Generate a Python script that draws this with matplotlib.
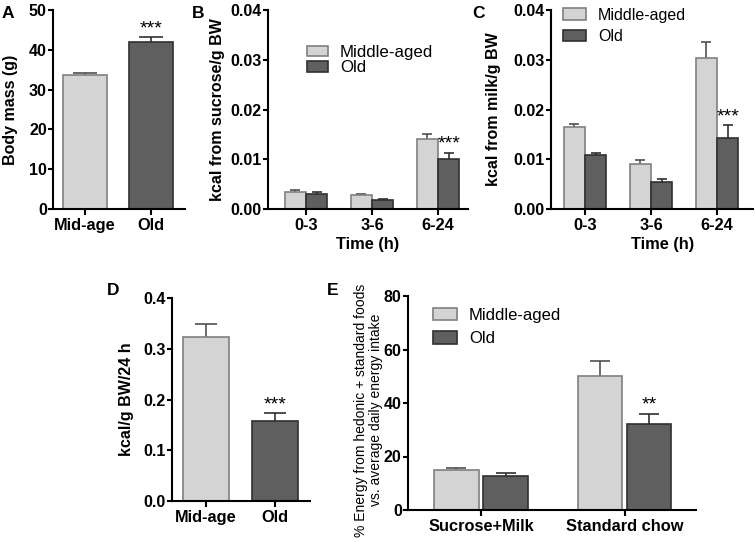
import matplotlib
matplotlib.use("Agg")
import matplotlib.pyplot as plt
import numpy as np
from matplotlib.ticker import FormatStrFormatter

# ---------------- data ----------------
A_groups = ["Mid-age", "Old"]
A_mean = [33.7, 41.9]
A_err = [0.4, 1.2]

times = ["0-3", "3-6", "6-24"]
B_ma = [0.0034, 0.0028, 0.0140]
B_ma_err = [0.0004, 0.0003, 0.0011]
B_old = [0.0031, 0.0018, 0.0101]
B_old_err = [0.0004, 0.0003, 0.0012]

C_ma = [0.0164, 0.0090, 0.0303]
C_ma_err = [0.0006, 0.0008, 0.0032]
C_old = [0.0109, 0.0054, 0.0143]
C_old_err = [0.0004, 0.0006, 0.0025]

D_groups = ["Mid-age", "Old"]
D_mean = [0.324, 0.158]
D_err = [0.025, 0.015]

E_cats = ["Sucrose+Milk", "Standard chow"]
E_ma = [15.0, 50.2]
E_ma_err = [0.6, 5.6]
E_old = [12.8, 32.1]
E_old_err = [1.0, 3.8]

series_names = ["Middle-aged", "Old"]

# ---------------- style ----------------
plt.rcParams["font.family"] = ["Liberation Sans", "DejaVu Sans"]
LIGHT, LIGHT_EDGE, LIGHT_ERR = "#d4d4d4", "#808080", "#505050"
DARK, DARK_EDGE, DARK_ERR = "#5f5f5f", "#303030", "#303030"
W, H = 755, 542
fig = plt.figure(figsize=(W / 100, H / 100), dpi=100)


def rect(l, t, r, b):
    return [l / W, 1 - b / H, (r - l) / W, (b - t) / H]


def style(ax):
    for s in ["top", "right"]:
        ax.spines[s].set_visible(False)
    for s in ["left", "bottom"]:
        ax.spines[s].set_linewidth(1.5)
    ax.tick_params(axis="x", length=4.3, width=1.5, pad=2, labelsize=11.8)
    ax.tick_params(axis="y", length=3.5, width=1.5, pad=1, labelsize=11.5)
    for lab in ax.get_xticklabels() + ax.get_yticklabels():
        lab.set_fontweight("bold")


def bars(ax, x, vals, errs, width, color, edge, errc, capsize, label=None):
    b = ax.bar(x, vals, width, color=color, edgecolor=edge, linewidth=1.2,
               label=label, zorder=2)
    eb = ax.errorbar(x, vals, yerr=[np.zeros(len(vals)), errs], fmt="none",
                     ecolor=errc, elinewidth=1.2, capsize=capsize,
                     capthick=1.2, zorder=1)
    eb[1][0].set_visible(False)
    return b


def stars(ax, x, y, s, dy=0):
    ax.annotate(s, (x, y), xytext=(0, dy), textcoords="offset points",
                ha="center", va="bottom", fontsize=14)


def ylab(ax, text, x, y=0.5, **kw):
    ax.set_ylabel(text, fontsize=kw.pop("fontsize", 11.5),
                  fontweight=kw.pop("fontweight", "bold"), **kw)
    ax.yaxis.set_label_coords(x, y)


# ---------------- A ----------------
axA = fig.add_axes(rect(53, 10, 185, 209))
xa = np.arange(2)
bars(axA, xa[:1], A_mean[:1], A_err[:1], 0.67, LIGHT, LIGHT_EDGE, LIGHT_ERR, 8.6)
bars(axA, xa[1:], A_mean[1:], A_err[1:], 0.67, DARK, DARK_EDGE, DARK_ERR, 8.6)
axA.set_xlim(-0.485, 1.515)
axA.set_ylim(0, 50)
axA.set_yticks([0, 10, 20, 30, 40, 50])
axA.set_xticks(xa)
axA.set_xticklabels(A_groups)
ylab(axA, "Body mass (g)", -0.265)
style(axA)
stars(axA, xa[1], A_mean[1] + A_err[1], "***")

# ---------------- B ----------------
axB = fig.add_axes(rect(268, 10, 468, 209))
xb = np.arange(3)
bw = 0.325
bars(axB, xb - bw / 2, B_ma, B_ma_err, bw, LIGHT, LIGHT_EDGE, LIGHT_ERR, 3.3,
     label=series_names[0])
bars(axB, xb + bw / 2, B_old, B_old_err, bw, DARK, DARK_EDGE, DARK_ERR, 3.3,
     label=series_names[1])
axB.set_xlim(-0.576, 2.455)
axB.set_ylim(0, 0.04)
axB.set_yticks([0, 0.01, 0.02, 0.03, 0.04])
axB.yaxis.set_major_formatter(FormatStrFormatter("%.2f"))
axB.set_xticks(xb)
axB.set_xticklabels(times)
ylab(axB, "kcal from sucrose/g BW", -0.215)
axB.set_xlabel("Time (h)", fontsize=11.8, fontweight="bold", va="top")
axB.xaxis.set_label_coords(0.5, -0.14)
style(axB)
stars(axB, xb[2] + bw / 2, B_old[2] + B_old_err[2], "***")
fs = 12.2
em = fs * 100 / 72
axB.legend(loc="upper left", bbox_to_anchor=(0.195, 0.825), frameon=False,
           fontsize=fs, borderpad=0, borderaxespad=0, handlelength=21 / em,
           handleheight=10 / em, handletextpad=12 / em, labelspacing=0.02)

# ---------------- C ----------------
axC = fig.add_axes(rect(551, 10, 753, 209))
bars(axC, xb - bw / 2, C_ma, C_ma_err, bw, LIGHT, LIGHT_EDGE, LIGHT_ERR, 3.8,
     label=series_names[0])
bars(axC, xb + bw / 2, C_old, C_old_err, bw, DARK, DARK_EDGE, DARK_ERR, 3.8,
     label=series_names[1])
axC.set_xlim(-0.515, 2.545)
axC.set_ylim(0, 0.04)
axC.set_yticks([0, 0.01, 0.02, 0.03, 0.04])
axC.yaxis.set_major_formatter(FormatStrFormatter("%.2f"))
axC.set_xticks(xb)
axC.set_xticklabels(times)
ylab(axC, "kcal from milk/g BW", -0.248)
axC.set_xlabel("Time (h)", fontsize=11.8, fontweight="bold", va="top")
axC.xaxis.set_label_coords(0.555, -0.14)
style(axC)
stars(axC, xb[2] + bw / 2, C_old[2] + C_old_err[2], "***")
fs = 11.5
em = fs * 100 / 72
axC.legend(loc="upper left", bbox_to_anchor=(0.059, 1.012), frameon=False,
           fontsize=fs, borderpad=0, borderaxespad=0, handlelength=23 / em,
           handleheight=11 / em, handletextpad=12 / em, labelspacing=0.38)

# ---------------- D ----------------
axD = fig.add_axes(rect(172, 298, 310, 501))
xd = np.arange(2)
bars(axD, xd[:1], D_mean[:1], D_err[:1], 0.67, LIGHT, LIGHT_EDGE, LIGHT_ERR, 7.8)
bars(axD, xd[1:], D_mean[1:], D_err[1:], 0.67, DARK, DARK_EDGE, DARK_ERR, 7.8)
axD.set_xlim(-0.49, 1.507)
axD.set_ylim(0, 0.4)
axD.set_yticks([0, 0.1, 0.2, 0.3, 0.4])
axD.yaxis.set_major_formatter(FormatStrFormatter("%.1f"))
axD.set_xticks(xd)
axD.set_xticklabels(D_groups)
ylab(axD, "kcal/g BW/24 h", -0.275)
style(axD)
stars(axD, xd[1], D_mean[1] + D_err[1], "***")

# ---------------- E ----------------
axE = fig.add_axes(rect(408, 296, 696, 510))
xe = np.arange(2)
ew, eo = 0.31, 0.172
bars(axE, xe - eo, E_ma, E_ma_err, ew, LIGHT, LIGHT_EDGE, LIGHT_ERR, 7.5,
     label=series_names[0])
bars(axE, xe + eo, E_old, E_old_err, ew, DARK, DARK_EDGE, DARK_ERR, 7.5,
     label=series_names[1])
axE.set_xlim(-0.509, 1.498)
axE.set_ylim(0, 80)
axE.set_yticks([0, 20, 40, 60, 80])
axE.set_xticks(xe)
axE.set_xticklabels(E_cats)
ylab(axE, "% Energy from hedonic + standard foods\nvs. average daily energy intake",
     -0.087, 0.467, fontsize=10, fontweight="normal", linespacing=1.05)
style(axE)
stars(axE, xe[1] + eo, E_old[1] + E_old_err[1], "**")
fs = 12
em = fs * 100 / 72
axE.legend(loc="upper left", bbox_to_anchor=(0.087, 0.945), frameon=False,
           fontsize=fs, borderpad=0, borderaxespad=0, handlelength=24 / em,
           handleheight=13 / em, handletextpad=12 / em, labelspacing=0.5)

# ---------------- panel letters ----------------
for letter, px, py in [("A", 2, 6), ("B", 192, 6), ("C", 472, 6),
                       ("D", 107, 283), ("E", 327, 283)]:
    fig.text(px / W, 1 - py / H, letter, fontsize=12.5, fontweight="bold",
             ha="left", va="top")

fig.savefig("out.png", dpi=100)
